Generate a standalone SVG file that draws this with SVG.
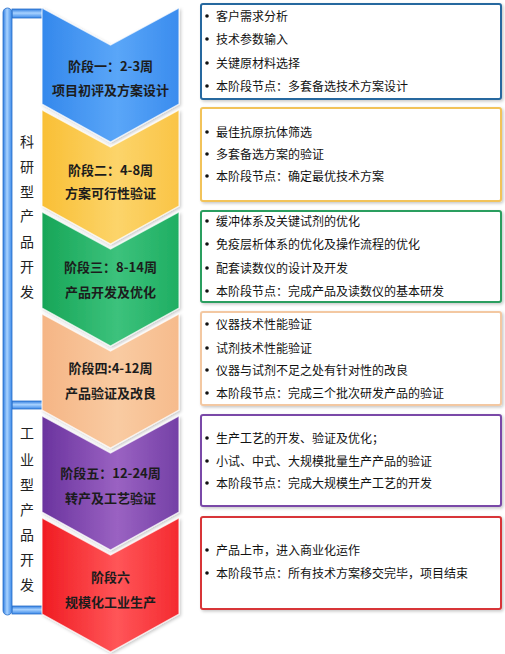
<svg xmlns="http://www.w3.org/2000/svg" width="505" height="654" viewBox="0 0 505 654">
<defs>
<linearGradient id="gBlue" x1="0" y1="0" x2="1" y2="0"><stop offset="0" stop-color="#3488ec"/><stop offset="0.55" stop-color="#5aa6f8"/><stop offset="1" stop-color="#3a8cee"/></linearGradient>
<linearGradient id="gYellow" x1="0" y1="0" x2="1" y2="0"><stop offset="0" stop-color="#f9bf35"/><stop offset="0.55" stop-color="#fcd46a"/><stop offset="1" stop-color="#fac446"/></linearGradient>
<linearGradient id="gGreen" x1="0" y1="0" x2="1" y2="0"><stop offset="0" stop-color="#17a557"/><stop offset="0.55" stop-color="#3cc27c"/><stop offset="1" stop-color="#1fae62"/></linearGradient>
<linearGradient id="gPeach" x1="0" y1="0" x2="1" y2="0"><stop offset="0" stop-color="#f5b585"/><stop offset="0.55" stop-color="#f9cba2"/><stop offset="1" stop-color="#f6bb8c"/></linearGradient>
<linearGradient id="gPurple" x1="0" y1="0" x2="1" y2="0"><stop offset="0" stop-color="#6a339e"/><stop offset="0.55" stop-color="#9a62c2"/><stop offset="1" stop-color="#7440a6"/></linearGradient>
<linearGradient id="gRed" x1="0" y1="0" x2="1" y2="0"><stop offset="0" stop-color="#f01c22"/><stop offset="0.55" stop-color="#ff5558"/><stop offset="1" stop-color="#f42a30"/></linearGradient>
<linearGradient id="gBarV" x1="0" y1="0" x2="1" y2="0"><stop offset="0" stop-color="#2f7de0"/><stop offset="0.45" stop-color="#a8d2ff"/><stop offset="1" stop-color="#3a88e8"/></linearGradient>
<linearGradient id="gBarH" x1="0" y1="0" x2="0" y2="1"><stop offset="0" stop-color="#2f7de0"/><stop offset="0.45" stop-color="#a8d2ff"/><stop offset="1" stop-color="#3a88e8"/></linearGradient>
<filter id="sh" x="-10%" y="-10%" width="125%" height="125%"><feDropShadow dx="1.5" dy="1.5" stdDeviation="1.5" flood-color="#000" flood-opacity="0.22"/></filter>
<path id="chev" d="M0,0 L68.5,37 L137,0 L137,96 L68.5,134 L0,96 Z"/>
</defs>
<style>
.ct{font-family:"Noto Sans CJK SC","Noto Sans",sans-serif;font-size:13px;font-weight:bold;fill:#1c1c1c;text-anchor:middle}
.bt{font-family:"Noto Sans CJK SC","Noto Sans",sans-serif;font-size:12px;fill:#111}
.lt{font-family:"Noto Sans CJK SC","Noto Sans",sans-serif;font-size:14px;fill:#222;text-anchor:middle}
.box{fill:#fff;stroke-width:2;filter:url(#sh)}
.chv{stroke:#ffffff;stroke-opacity:0.7;stroke-width:1.2;filter:url(#sh)}
.dot{fill:#111}
</style>
<rect width="505" height="654" fill="#ffffff"/>

<g id="bracket">
<rect x="12" y="9" width="31" height="9" fill="url(#gBarH)" stroke="#2a6fc8" stroke-width="0.8"/>
<rect x="12" y="401" width="31" height="8" fill="url(#gBarH)" stroke="#2a6fc8" stroke-width="0.8"/>
<rect x="12" y="606" width="31" height="8" fill="url(#gBarH)" stroke="#2a6fc8" stroke-width="0.8"/>
<rect x="3" y="8" width="9" height="607" rx="4.5" fill="url(#gBarV)" stroke="#2a6fc8" stroke-width="0.8"/>
</g>

<g id="label-research">
<text class="lt" x="27" y="147">科</text>
<text class="lt" x="27" y="172">研</text>
<text class="lt" x="27" y="197">型</text>
<text class="lt" x="27" y="221">产</text>
<text class="lt" x="27" y="247">品</text>
<text class="lt" x="27" y="272">开</text>
<text class="lt" x="27" y="297">发</text>
</g>
<g id="label-industrial">
<text class="lt" x="27" y="438">工</text>
<text class="lt" x="27" y="465">业</text>
<text class="lt" x="27" y="490">型</text>
<text class="lt" x="27" y="515">产</text>
<text class="lt" x="27" y="540">品</text>
<text class="lt" x="27" y="565">开</text>
<text class="lt" x="27" y="590">发</text>
</g>

<g id="stage1">
<use href="#chev" x="42" y="8" class="chv" fill="url(#gBlue)"/>
<text class="ct" x="110.5" y="71">阶段一：2-3周</text>
<text class="ct" x="110.5" y="95">项目初评及方案设计</text>
</g>
<g id="stage2">
<use href="#chev" x="42" y="110" class="chv" fill="url(#gYellow)"/>
<text class="ct" x="110.5" y="175">阶段二：4-8周</text>
<text class="ct" x="110.5" y="198">方案可行性验证</text>
</g>
<g id="stage3">
<use href="#chev" x="42" y="212" class="chv" fill="url(#gGreen)"/>
<text class="ct" x="110.5" y="272">阶段三：8-14周</text>
<text class="ct" x="110.5" y="297">产品开发及优化</text>
</g>
<g id="stage4">
<use href="#chev" x="42" y="314" class="chv" fill="url(#gPeach)"/>
<text class="ct" x="110.5" y="373">阶段四:4-12周</text>
<text class="ct" x="110.5" y="398">产品验证及改良</text>
</g>
<g id="stage5">
<use href="#chev" x="42" y="416" class="chv" fill="url(#gPurple)"/>
<text class="ct" x="110.5" y="478">阶段五：12-24周</text>
<text class="ct" x="110.5" y="503">转产及工艺验证</text>
</g>
<g id="stage6">
<use href="#chev" x="42" y="518" class="chv" fill="url(#gRed)"/>
<text class="ct" x="110.5" y="582">阶段六</text>
<text class="ct" x="110.5" y="607">规模化工业生产</text>
</g>

<g id="box1">
<rect class="box" x="201" y="4" width="300" height="95" rx="2" stroke="#25689f"/>
<circle class="dot" cx="207" cy="16" r="1.8"/><text class="bt" x="216" y="20.5">客户需求分析</text>
<circle class="dot" cx="207" cy="39" r="1.8"/><text class="bt" x="216" y="43.5">技术参数输入</text>
<circle class="dot" cx="207" cy="63" r="1.8"/><text class="bt" x="216" y="67.5">关键原材料选择</text>
<circle class="dot" cx="207" cy="86" r="1.8"/><text class="bt" x="216" y="90.5">本阶段节点：多套备选技术方案设计</text>
</g>
<g id="box2">
<rect class="box" x="201" y="108" width="300" height="93" rx="2" stroke="#f2c35a"/>
<circle class="dot" cx="207" cy="132" r="1.8"/><text class="bt" x="216" y="136.5">最佳抗原抗体筛选</text>
<circle class="dot" cx="207" cy="154" r="1.8"/><text class="bt" x="216" y="158.5">多套备选方案的验证</text>
<circle class="dot" cx="207" cy="176" r="1.8"/><text class="bt" x="216" y="180.5">本阶段节点：确定最优技术方案</text>
</g>
<g id="box3">
<rect class="box" x="201" y="211" width="300" height="91" rx="2" stroke="#2a9e5e"/>
<circle class="dot" cx="207" cy="221" r="1.8"/><text class="bt" x="216" y="225.5">缓冲体系及关键试剂的优化</text>
<circle class="dot" cx="207" cy="244" r="1.8"/><text class="bt" x="216" y="248.5">免疫层析体系的优化及操作流程的优化</text>
<circle class="dot" cx="207" cy="268" r="1.8"/><text class="bt" x="216" y="272.5">配套读数仪的设计及开发</text>
<circle class="dot" cx="207" cy="291" r="1.8"/><text class="bt" x="216" y="295.5">本阶段节点：完成产品及读数仪的基本研发</text>
</g>
<g id="box4">
<rect class="box" x="201" y="312" width="300" height="93" rx="2" stroke="#f3c8a2"/>
<circle class="dot" cx="207" cy="324" r="1.8"/><text class="bt" x="216" y="328.5">仪器技术性能验证</text>
<circle class="dot" cx="207" cy="348" r="1.8"/><text class="bt" x="216" y="352.5">试剂技术性能验证</text>
<circle class="dot" cx="207" cy="370" r="1.8"/><text class="bt" x="216" y="374.5">仪器与试剂不足之处有针对性的改良</text>
<circle class="dot" cx="207" cy="393" r="1.8"/><text class="bt" x="216" y="397.5">本阶段节点：完成三个批次研发产品的验证</text>
</g>
<g id="box5">
<rect class="box" x="201" y="415" width="300" height="91" rx="2" stroke="#7a4aa8"/>
<circle class="dot" cx="207" cy="438" r="1.8"/><text class="bt" x="216" y="442.5">生产工艺的开发、验证及优化；</text>
<circle class="dot" cx="207" cy="461" r="1.8"/><text class="bt" x="216" y="465.5">小试、中式、大规模批量生产产品的验证</text>
<circle class="dot" cx="207" cy="483" r="1.8"/><text class="bt" x="216" y="487.5">本阶段节点：完成大规模生产工艺的开发</text>
</g>
<g id="box6">
<rect class="box" x="201" y="517" width="300" height="92" rx="2" stroke="#d83438"/>
<circle class="dot" cx="207" cy="550" r="1.8"/><text class="bt" x="216" y="554.5">产品上市，进入商业化运作</text>
<circle class="dot" cx="207" cy="573" r="1.8"/><text class="bt" x="216" y="577.5">本阶段节点：所有技术方案移交完毕，项目结束</text>
</g>
<g id="connectors"></g>
</svg>
